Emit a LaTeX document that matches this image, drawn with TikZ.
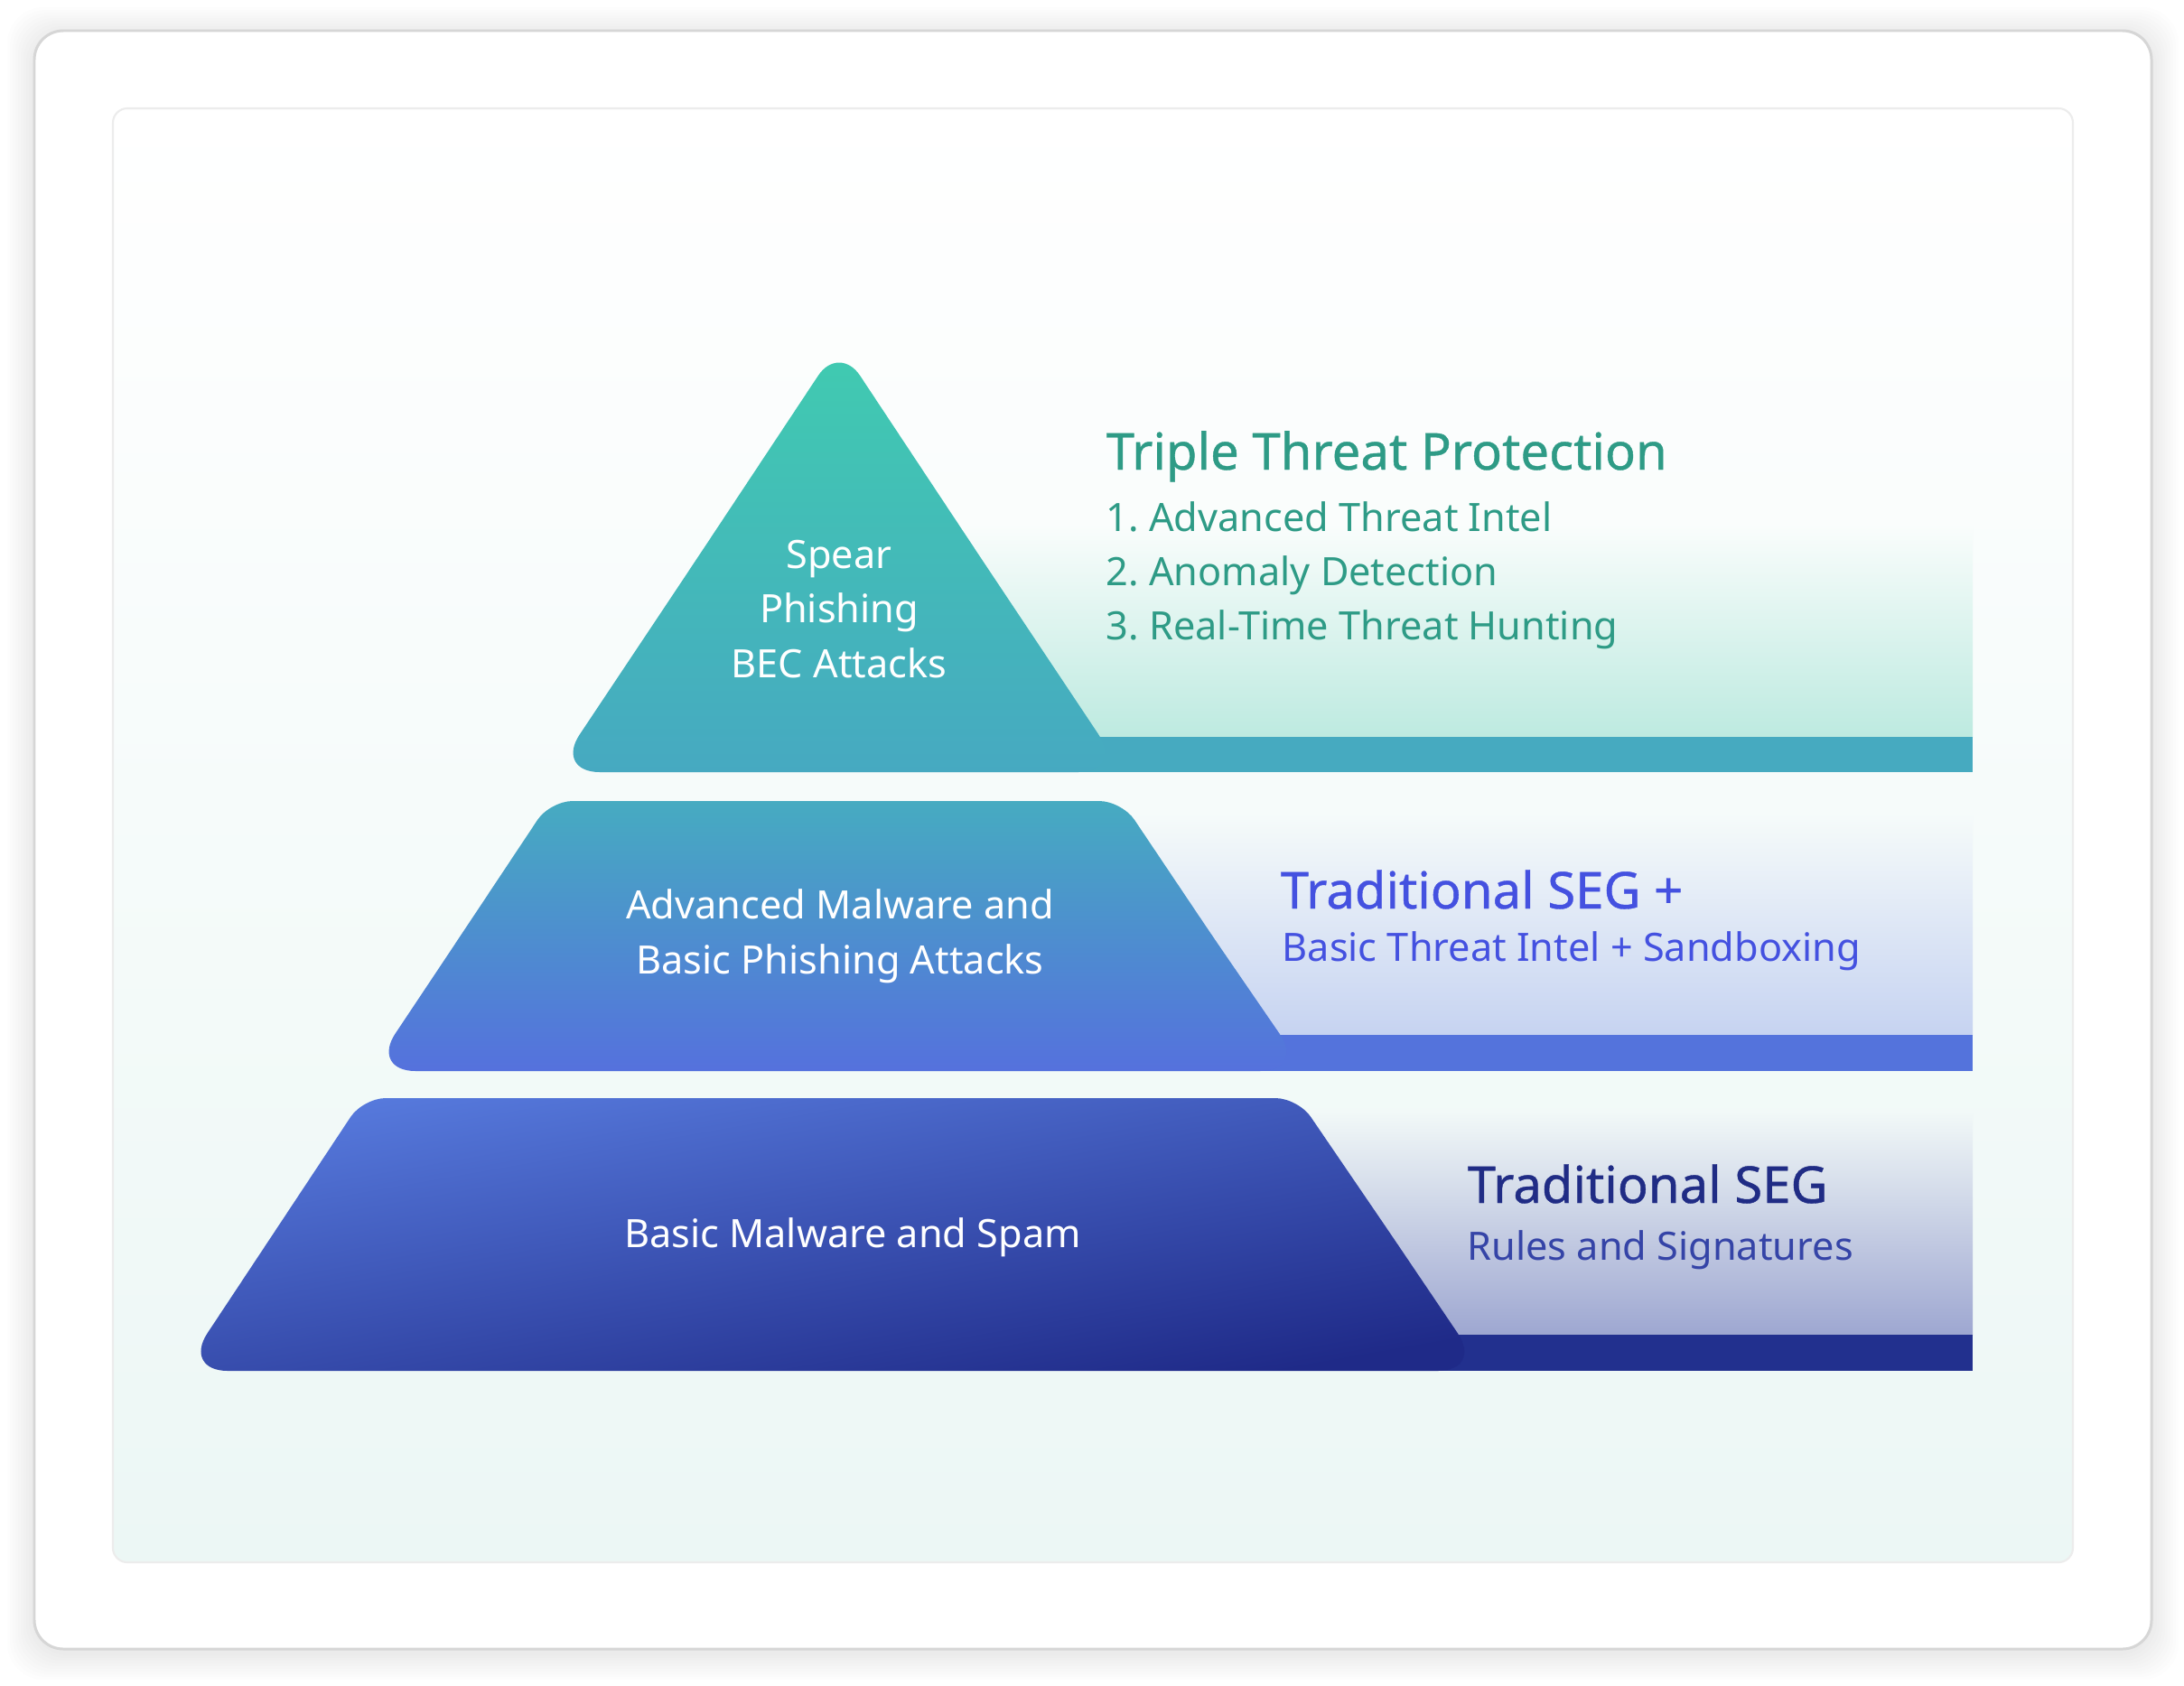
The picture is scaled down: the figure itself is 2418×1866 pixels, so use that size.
\documentclass[tikz,border=0pt]{standalone}
\usepackage{fontspec}
\setmainfont{Noto Sans}
\newfontfamily\headfont[FakeBold=0.7]{Noto Sans}
\definecolor{frameline}{HTML}{D6D6D6}
\definecolor{panelline}{HTML}{ECECEC}
\definecolor{panelbot}{HTML}{ECF7F5}
\definecolor{spearTop}{HTML}{40CBB0}
\definecolor{spearBot}{HTML}{46A9C1}
\definecolor{advTop}{HTML}{46ABC1}
\definecolor{advBot}{HTML}{5571DD}
\definecolor{basTop}{HTML}{5679DC}
\definecolor{basMid}{HTML}{4A66CE}
\definecolor{basBot}{HTML}{1F2A88}
\definecolor{spearBar}{HTML}{46AAC0}
\definecolor{advBar}{HTML}{5473DC}
\definecolor{basBar}{HTML}{22308E}
\definecolor{bgA}{HTML}{FAFDFC}
\definecolor{bgB}{HTML}{F6FBFA}
\definecolor{bgC}{HTML}{F2F9F8}
\definecolor{tintAmid}{HTML}{E9F7F3}
\definecolor{tintA}{HTML}{BDEAE0}
\definecolor{tintBmid}{HTML}{E9EEF9}
\definecolor{tintB}{HTML}{C6D3F1}
\definecolor{tintCmid}{HTML}{DDE1EE}
\definecolor{tintC}{HTML}{9EA7D1}
\definecolor{tealtext}{HTML}{2E9B86}
\definecolor{bluetext}{HTML}{4451E0}
\definecolor{navytext}{HTML}{202C85}
\definecolor{navysub}{HTML}{3544A7}
\tikzset{
  inlabel/.style={text=white,align=center,anchor=base,inner sep=0pt,font=\fontsize{12.3}{17.2}\selectfont},
  headlabel/.style={anchor=base west,inner sep=0pt,font=\headfont\fontsize{16}{19}\selectfont},
  sublabel/.style={anchor=base west,inner sep=0pt,font=\fontsize{12.3}{17.1}\selectfont}
}
\begin{document}
\begin{tikzpicture}[x=0.01cm,y=-0.01cm]
  \useasboundingbox (0,0) rectangle (2418,1866);
  \foreach \s in {1,...,10}
    \fill[black,opacity=0.006,rounded corners=0.4cm] ({38-\s*3},{34-\s*3+4}) rectangle ({2382+\s*3},{1826+\s*3+4});
  \draw[frameline,line width=0.85pt,fill=white,rounded corners=0.32cm] (38,34) rectangle (2382,1826);
  \draw[panelline,line width=0.6pt,top color=white,bottom color=panelbot,rounded corners=0.16cm] (125,120) rectangle (2295,1730);

  \shade[top color=bgA,middle color=tintAmid,bottom color=tintA] (1000,580) rectangle (2184,816);
  \shade[top color=bgB,middle color=tintBmid,bottom color=tintB] (1200,900) rectangle (2184,1146);
  \shade[top color=bgC,middle color=tintCmid,bottom color=tintC] (1400,1230) rectangle (2184,1478);

  \fill[spearBar] (1100,816) rectangle (2184,855);
  \fill[advBar] (1300,1146) rectangle (2184,1186);
  \fill[basBar] (1500,1478) rectangle (2184,1518);

  \shade[top color=spearTop,bottom color=spearBot] (929,855) [rounded corners=0.5cm] -- (1244,855) -- (1086,618)
    [rounded corners=0.42cm] -- (929,381) -- (772,618)
    [rounded corners=0.5cm] -- (614,855) -- cycle;
  \shade[top color=advTop,bottom color=advBot] (930,887) [rounded corners=0.25cm] -- (1242,887) -- (1342,1036)
    [rounded corners=0.5cm] -- (1445,1186) -- (930,1186) -- (410,1186) -- (510,1036)
    [rounded corners=0.25cm] -- (609,887) -- cycle;
  \shade[top color=basTop,middle color=basMid,bottom color=basBot,shading angle=10] (920,1216) [rounded corners=0.25cm] -- (1437,1216) -- (1540,1367)
    [rounded corners=0.5cm] -- (1642,1518) -- (920,1518) -- (202,1518) -- (302,1367)
    [rounded corners=0.25cm] -- (402,1216) -- cycle;

  \node[inlabel] (spear) at (929,750) {Spear\\Phishing\\BEC Attacks};
  \node[inlabel] (advanced) at (930,1078) {Advanced Malware and\\Basic Phishing Attacks};
  \node[inlabel] (basic) at (944,1381) {Basic Malware and Spam};

  \node[headlabel,text=tealtext] (triple) at (1224,520) {Triple Threat Protection};
  \node[sublabel,text=tealtext] (intel) at (1224,588) {1.\ Advanced Threat Intel};
  \node[sublabel,text=tealtext] (anomaly) at (1224,648) {2.\ Anomaly Detection};
  \node[sublabel,text=tealtext] (hunting) at (1224,708) {3.\ Real-Time Threat Hunting};

  \node[headlabel,text=bluetext] (segplus) at (1417,1006) {Traditional SEG +};
  \node[sublabel,text=bluetext] (sandbox) at (1419,1064) {Basic Threat Intel + Sandboxing};

  \node[headlabel,text=navytext] (seg) at (1624,1332) {Traditional SEG};
  \node[sublabel,text=navysub] (rules) at (1624,1395) {Rules and Signatures};
\end{tikzpicture}
\end{document}
